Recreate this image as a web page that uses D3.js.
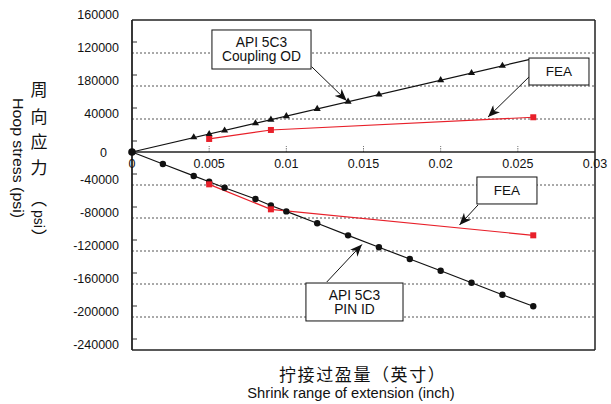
<!DOCTYPE html>
<html><head><meta charset="utf-8">
<script src="https://cdn.jsdelivr.net/npm/d3@7"></script>
<style>
body{margin:0;background:#fff;}
svg{display:block;}
text{font-family:"Liberation Sans",Arial,sans-serif;fill:#111;}
.cjk{font-family:"Noto Sans CJK SC",sans-serif;}
</style></head><body>
<svg id="c" width="611" height="404"></svg>
<script>
// ---- data ----
const xTicks = [0, 0.005, 0.01, 0.015, 0.02, 0.025, 0.03];
const xTickLabels = ["0", "0.005", "0.01", "0.015", "0.02", "0.025", "0.03"];
const yTicks = [160000, 120000, 80000, 40000, 0, -40000, -80000, -120000, -160000, -200000, -240000];
const yTickLabels = ["160000", "120000", "180000", "40000", "0", "-40000", "-80000", "-120000", "-160000", "-200000", "-240000"];

const couplingX = [0.004, 0.005, 0.006, 0.008, 0.009, 0.010, 0.012, 0.014, 0.016, 0.020, 0.022, 0.024];
const couplingY = [17800, 21600, 26000, 34800, 39200, 43500, 52200, 61000, 69700, 87000, 95700, 104500];
const couplingLineX = [0, 0.026];
const couplingLineY = [0, 113200];

const pinX = [0, 0.002, 0.004, 0.005, 0.006, 0.008, 0.009, 0.010, 0.012, 0.014, 0.016, 0.018, 0.020, 0.022, 0.024, 0.026];
const pinY = [0, -14500, -29000, -36000, -43300, -57000, -64800, -72000, -86400, -101000, -115500, -129700, -144000, -158500, -173000, -187000];

const feaOuterX = [0.005, 0.009, 0.026];
const feaOuterY = [15800, 26700, 42100];
const feaInnerX = [0.005, 0.009, 0.026];
const feaInnerY = [-39200, -69500, -101000];

// annotation boxes (data units): x0,x1,yTop,yBottom ; arrows from->to
const boxLabels = [["API 5C3", "Coupling OD"], ["FEA"], ["FEA"], ["API 5C3", "PIN ID"]];
const boxExtents = [[0.00518, 0.01160, 147900, 100600], [0.02572, 0.02961, 113900, 81200],
                    [0.02235, 0.02624, -30300, -63000], [0.01127, 0.01756, -158800, -204800]];
const arrowFrom = [[0.01164, 103400], [0.02572, 90900], [0.02242, -64200], [0.01262, -157600]];
const arrowTo = [[0.01391, 62200], [0.02307, 42400], [0.02122, -88500], [0.01490, -112100]];

// ---- layout ----
const svg = d3.select("#c");
const L = 132, R = 595, T = 20, B = 350;
const x = d3.scaleLinear().domain([0, 0.03]).range([L, R]);
const y = d3.scaleLinear().domain([-240000, 160000]).range([B, T]);
const RED = "#e8202a";

svg.append("defs").append("marker")
  .attr("id", "arr").attr("viewBox", "0 0 12 10").attr("refX", 12).attr("refY", 5)
  .attr("markerWidth", 12).attr("markerHeight", 10).attr("markerUnits", "userSpaceOnUse")
  .attr("orient", "auto")
  .append("path").attr("d", "M0,0 L12,5 L0,10 L3.5,5 Z").attr("fill", "#111");

// gridlines (dotted)
const gridVals = yTicks.filter(v => v !== 0 && v > -240000 && v < 160000);
svg.append("g").selectAll("line").data(gridVals).join("line")
  .attr("x1", L).attr("x2", R).attr("y1", d => y(d)).attr("y2", d => y(d))
  .attr("stroke", "#555").attr("stroke-width", 1).attr("stroke-dasharray", "2,2");

// y ticks (short solid, sitting above the grid lines)
const tickShift = 11;
svg.append("g").selectAll("line").data(yTicks.filter(v => y(v) - tickShift > T)).join("line")
  .attr("x1", L).attr("x2", L + 5).attr("y1", d => y(d) - tickShift).attr("y2", d => y(d) - tickShift)
  .attr("stroke", "#333").attr("stroke-width", 1);

// x ticks (small upward marks on zero line)
svg.append("g").selectAll("line").data(xTicks.filter(v => v > 0 && v < 0.03)).join("line")
  .attr("x1", d => x(d)).attr("x2", d => x(d)).attr("y1", y(0)).attr("y2", y(0) - 6)
  .attr("stroke", "#777").attr("stroke-width", 1).attr("stroke-dasharray", "1.5,1");

// frame
svg.append("line").attr("x1", L).attr("x2", R).attr("y1", T).attr("y2", T).attr("stroke", "#222").attr("stroke-width", 1.5);
svg.append("line").attr("x1", R).attr("x2", R).attr("y1", T).attr("y2", B).attr("stroke", "#222").attr("stroke-width", 1.5);
svg.append("line").attr("x1", L).attr("x2", R).attr("y1", B).attr("y2", B).attr("stroke", "#222").attr("stroke-width", 1.5);
svg.append("line").attr("x1", L).attr("x2", L).attr("y1", T).attr("y2", B).attr("stroke", "#222").attr("stroke-width", 1.8);
svg.append("line").attr("x1", L).attr("x2", R).attr("y1", y(0)).attr("y2", y(0)).attr("stroke", "#222").attr("stroke-width", 1.5);

// y tick labels
svg.append("g").selectAll("text").data(yTicks).join("text")
  .attr("x", d => d === 0 ? 107 : 119)
  .attr("y", (d) => d === 0 ? y(d) + 1 : y(d) - 5.5)
  .attr("dy", "0.35em").attr("text-anchor", "end").attr("font-size", 12.5)
  .text((d, i) => yTickLabels[i]);

// x tick labels
svg.append("g").selectAll("text").data(xTicks).join("text")
  .attr("x", d => x(d)).attr("y", 168).attr("text-anchor", "middle").attr("font-size", 12.5)
  .text((d, i) => xTickLabels[i]);

// series lines
const line = d3.line().x(d => x(d[0])).y(d => y(d[1]));
svg.append("path").datum(couplingLineX.map((v, i) => [v, couplingLineY[i]]))
  .attr("d", line).attr("fill", "none").attr("stroke", "#111").attr("stroke-width", 1.2);
svg.append("path").datum(pinX.map((v, i) => [v, pinY[i]]))
  .attr("d", line).attr("fill", "none").attr("stroke", "#111").attr("stroke-width", 1.2);
svg.append("path").datum(feaOuterX.map((v, i) => [v, feaOuterY[i]]))
  .attr("d", line).attr("fill", "none").attr("stroke", RED).attr("stroke-width", 1.2);
svg.append("path").datum(feaInnerX.map((v, i) => [v, feaInnerY[i]]))
  .attr("d", line).attr("fill", "none").attr("stroke", RED).attr("stroke-width", 1.2);

// markers
const tri = d3.symbol().type(d3.symbolTriangle).size(22);
svg.append("g").selectAll("path").data(couplingX.map((v, i) => [v, couplingY[i]])).join("path")
  .attr("d", tri).attr("transform", d => `translate(${x(d[0])},${y(d[1])})`).attr("fill", "#111");
svg.append("g").selectAll("circle").data(pinX.map((v, i) => [v, pinY[i]])).join("circle")
  .attr("cx", d => x(d[0])).attr("cy", d => y(d[1])).attr("r", (d, i) => i === 0 ? 3.8 : 3.2).attr("fill", "#111");
const sq = 6;
svg.append("g").selectAll("rect").data(feaOuterX.map((v, i) => [v, feaOuterY[i]]).concat(feaInnerX.map((v, i) => [v, feaInnerY[i]]))).join("rect")
  .attr("x", d => x(d[0]) - sq / 2).attr("y", d => y(d[1]) - sq / 2).attr("width", sq).attr("height", sq).attr("fill", RED);

// annotation arrows
svg.append("g").selectAll("line").data(arrowFrom).join("line")
  .attr("x1", d => x(d[0])).attr("y1", d => y(d[1]))
  .attr("x2", (d, i) => x(arrowTo[i][0])).attr("y2", (d, i) => y(arrowTo[i][1]))
  .attr("stroke", "#111").attr("stroke-width", 1).attr("marker-end", "url(#arr)");

// annotation boxes
boxExtents.forEach((b, i) => {
  const x0 = x(b[0]), x1 = x(b[1]), y0 = y(b[2]), y1 = y(b[3]);
  svg.append("rect").attr("x", x0).attr("y", y0).attr("width", x1 - x0).attr("height", y1 - y0)
    .attr("fill", "#fff").attr("stroke", "#111").attr("stroke-width", 1);
  const lines = boxLabels[i];
  const cx = (x0 + x1) / 2, cy = (y0 + y1) / 2;
  const lh = 14;
  lines.forEach((t, j) => {
    svg.append("text").attr("x", cx).attr("y", cy + (j - (lines.length - 1) / 2) * lh)
      .attr("dy", "0.36em").attr("text-anchor", "middle").attr("font-size", lines.length > 1 ? 13.8 : 13.5).text(t);
  });
});

// x axis titles
svg.append("text").attr("class", "cjk").attr("x", 279).attr("y", 381).attr("font-size", 17)
  .attr("letter-spacing", 1.6).text("拧接过盈量（英寸）");
svg.append("text").attr("x", 351).attr("y", 398).attr("text-anchor", "middle").attr("font-size", 14.7)
  .text("Shrink range of extension (inch)");

// y axis titles
svg.append("text").attr("transform", "translate(13,158) rotate(90)").attr("text-anchor", "middle")
  .attr("font-size", 14.5).attr("textLength", 120).attr("lengthAdjust", "spacingAndGlyphs").text("Hoop stress (psi)");
const cjkChars = ["周", "向", "应", "力"];
const cjkY = [90, 117, 142, 168];
cjkChars.forEach((c, i) => {
  svg.append("text").attr("class", "cjk").attr("x", 39).attr("y", cjkY[i]).attr("dy", "0.36em")
    .attr("text-anchor", "middle").attr("font-size", 17).text(c);
});
svg.append("text").attr("class", "cjk").attr("x", 39).attr("y", 199).attr("dy", "0.36em")
  .attr("text-anchor", "middle").attr("font-size", 16).text("︵");
svg.append("text").attr("transform", "translate(34,219) rotate(90)").attr("text-anchor", "middle")
  .attr("font-size", 14).text("psi");
svg.append("text").attr("class", "cjk").attr("x", 39).attr("y", 237).attr("dy", "0.36em")
  .attr("text-anchor", "middle").attr("font-size", 16).text("︶");
</script></body></html>
